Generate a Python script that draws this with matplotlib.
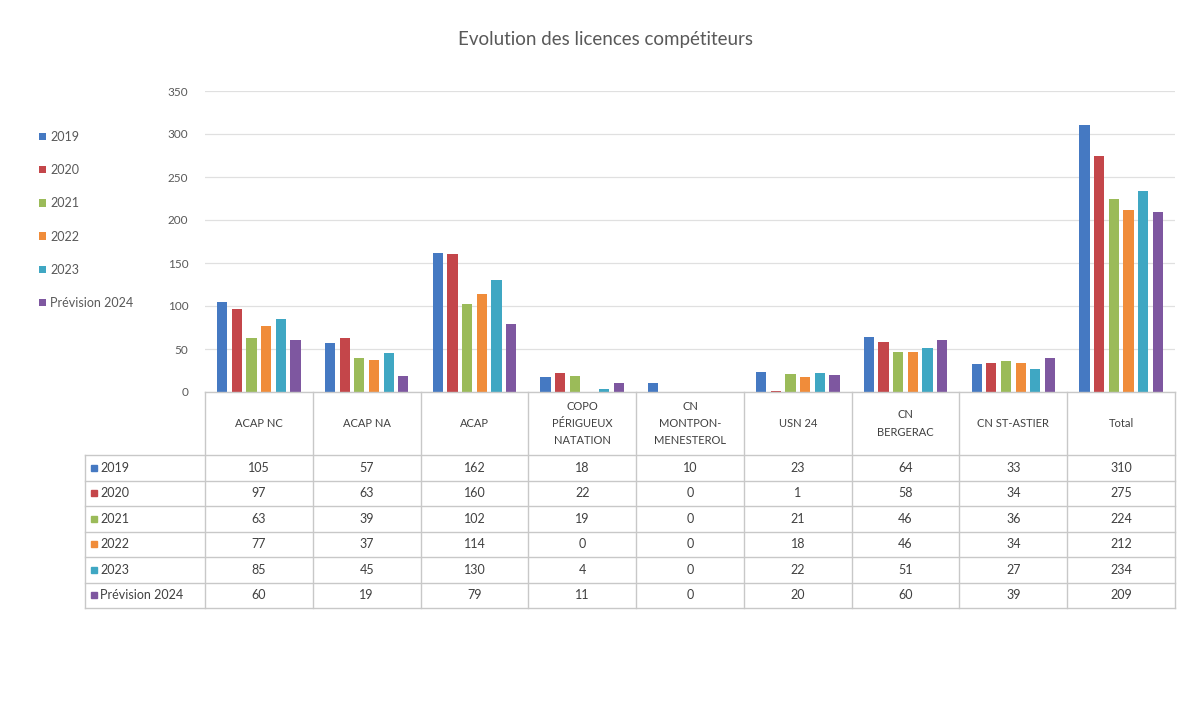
import matplotlib
matplotlib.use('Agg')
import matplotlib.pyplot as plt
import numpy as np

plt.rcParams['font.family'] = ['Lato', 'DejaVu Sans']

CLUBS = ['ACAP NC', 'ACAP NA', 'ACAP', 'COPO\nPÉRIGUEUX\nNATATION',
         'CN\nMONTPON-\nMENESTEROL', 'USN 24', 'CN\nBERGERAC',
         'CN ST-ASTIER', 'Total']
SERIES = ['2019', '2020', '2021', '2022', '2023', 'Prévision 2024']
V2019 = [105, 57, 162, 18, 10, 23, 64, 33, 310]
V2020 = [97, 63, 160, 22, 0, 1, 58, 34, 275]
V2021 = [63, 39, 102, 19, 0, 21, 46, 36, 224]
V2022 = [77, 37, 114, 0, 0, 18, 46, 34, 212]
V2023 = [85, 45, 130, 4, 0, 22, 51, 27, 234]
V2024 = [60, 19, 79, 11, 0, 20, 60, 39, 209]
VALUES = [V2019, V2020, V2021, V2022, V2023, V2024]
COLORS = ['#4579C2', '#C4464A', '#9BBB59', '#F08C3A', '#3FA7C3', '#7E57A0']
YTICKS = [0, 50, 100, 150, 200, 250, 300, 350]

W, H = 1180, 703
fig = plt.figure(figsize=(W / 100, H / 100), dpi=100)

# pixel layout
AX_L, AX_R, AX_T, AX_B = 205, 1175, 91, 392
TB_L, TB_B = 85, 608
HEAD_H = 63
ROW_H = (TB_B - AX_B - HEAD_H) / 6
GRAY = '#595959'
LINE = '#c8c8c8'

ax = fig.add_axes([AX_L / W, 1 - AX_B / H, (AX_R - AX_L) / W, (AX_B - AX_T) / H])
x = np.arange(len(CLUBS))
step, bw = 0.136, 0.095
for k, (name, vals, c) in enumerate(zip(SERIES, VALUES, COLORS)):
    ax.bar(x + (k - 2.5) * step, vals, width=bw, color=c, label=name, zorder=3)
ax.set_xlim(-0.5, len(CLUBS) - 0.5)
ax.set_ylim(0, 350)
ax.set_yticks(YTICKS)
ax.set_yticklabels([str(t) for t in YTICKS], fontsize=8.5, color=GRAY)
ax.tick_params(axis='y', length=0, pad=12)
ax.set_xticks([])
ax.grid(axis='y', color='#e0e0e0', lw=0.9, zorder=0)
for s in ax.spines.values():
    s.set_visible(False)

fig.text(605 / W, 1 - 40 / H, 'Evolution des licences compétiteurs',
         ha='center', va='center', fontsize=13.5, color=GRAY)

leg = fig.legend(loc='center left', bbox_to_anchor=(28 / W, 1 - 220 / H),
                 frameon=False, fontsize=9, labelspacing=1.7,
                 handlelength=0.55, handleheight=0.55, handletextpad=0.35)
for t in leg.get_texts():
    t.set_color(GRAY)

# data table
colw = (AX_R - AX_L) / len(CLUBS)
xl = -0.5 - (AX_L - TB_L) / colw
tb = fig.add_axes([TB_L / W, 1 - TB_B / H, (AX_R - TB_L) / W, (TB_B - AX_B) / H])
tb.set_xlim(xl, len(CLUBS) - 0.5)
tb.set_ylim(TB_B - AX_B, 0)
tb.axis('off')
xr = len(CLUBS) - 0.5
kw = dict(color=LINE, lw=1.0, clip_on=False)
tb.plot([-0.5, xr], [0, 0], **kw)
for r in range(7):
    yy = HEAD_H + r * ROW_H
    tb.plot([xl, xr], [yy, yy], **kw)
for i in range(len(CLUBS) + 1):
    tb.plot([i - 0.5, i - 0.5], [0, TB_B - AX_B], **kw)
tb.plot([xl, xl], [HEAD_H, TB_B - AX_B], **kw)

for i, name in enumerate(CLUBS):
    tb.text(i, HEAD_H / 2, name, ha='center', va='center', fontsize=8,
            color='#404040', linespacing=1.7)
for r, (name, vals, c) in enumerate(zip(SERIES, VALUES, COLORS)):
    yc = HEAD_H + (r + 0.5) * ROW_H
    tb.plot([xl + 0.08], [yc], marker='s', ms=5, color=c, lw=0)
    tb.text(xl + 0.14, yc, name, ha='left', va='center', fontsize=9, color='#404040')
    for i, v in enumerate(vals):
        tb.text(i, yc, str(v), ha='center', va='center', fontsize=9, color='#404040')

fig.savefig('out.png', dpi=100, facecolor='white')
